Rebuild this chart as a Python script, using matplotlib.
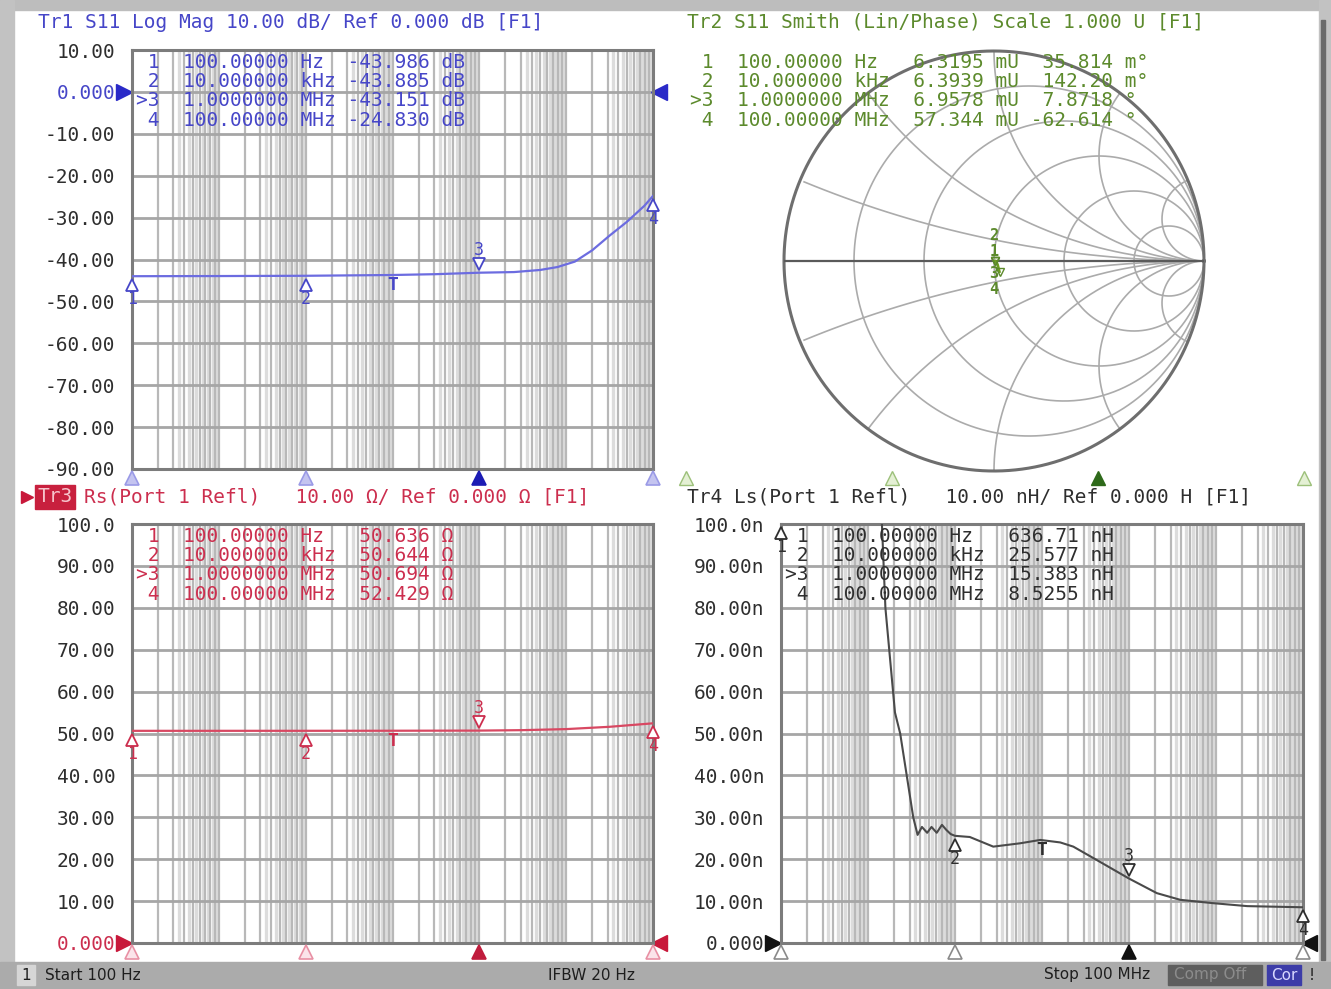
import numpy as np
import matplotlib.pyplot as plt
from matplotlib.patches import Rectangle
from matplotlib import transforms

W, H = 1331, 989
MONO = 'DejaVu Sans Mono'
FS = 14

# marker stimulus values (shared by all four traces)
mk_freq = [1e2, 1e4, 1e6, 1e8]
mk_name = ['1', '2', '>3', '4']
t_freq = 1e5  # extra "T" marker seen on the rectangular traces

# Tr1  S11 Log Mag (dB)
tr1_lf = [2.0, 3.0, 4.0, 5.0, 5.5, 6.0, 6.4, 6.7, 6.9, 7.1, 7.3, 7.5, 7.7, 7.9, 8.0]
tr1_val = [-43.986, -43.95, -43.885, -43.7, -43.5, -43.151, -43.0, -42.5, -41.8,
           -40.5, -37.8, -34.3, -31.0, -27.2, -24.830]
tr1_mk = [-43.986, -43.885, -43.151, -24.830]
tr1_ticks = [10, 0, -10, -20, -30, -40, -50, -60, -70, -80, -90]
tr1_labels = ['10.00', '0.000', '-10.00', '-20.00', '-30.00', '-40.00', '-50.00',
              '-60.00', '-70.00', '-80.00', '-90.00']

# Tr2  S11 Smith (Lin/Phase)
tr2_lf = [2.0, 4.0, 6.0, 7.0, 7.5, 8.0]
tr2_mag = [6.3195, 6.3939, 6.9578, 12.0, 25.0, 57.344]      # mU
tr2_ph = [0.035814, 0.14220, 7.8718, -20.0, -45.0, -62.614]  # deg
tr2_mk_mag = [6.3195, 6.3939, 6.9578, 57.344]
tr2_mk_ph = [0.035814, 0.14220, 7.8718, -62.614]

# Tr3  Rs (ohm)
tr3_lf = [2.0, 4.0, 5.0, 6.0, 6.5, 7.0, 7.5, 8.0]
tr3_val = [50.636, 50.644, 50.66, 50.694, 50.8, 51.05, 51.6, 52.429]
tr3_mk = [50.636, 50.644, 50.694, 52.429]
tr3_ticks = [100, 90, 80, 70, 60, 50, 40, 30, 20, 10, 0]
tr3_labels = ['100.0', '90.00', '80.00', '70.00', '60.00', '50.00', '40.00',
              '30.00', '20.00', '10.00', '0.000']

# Tr4  Ls (nH)
tr4_lf = [2.0, 3.0, 3.16, 3.2, 3.31, 3.37, 3.52, 3.57, 3.62, 3.68, 3.73, 3.79, 3.85,
          3.9, 3.95, 4.0, 4.17, 4.44, 4.75, 4.98, 5.21, 5.36, 5.63, 6.0, 6.32, 6.59,
          6.97, 7.36, 8.0]
tr4_val = [636.71, 140, 100, 80, 55, 50, 30, 25.8, 27.7, 26.3, 27.7, 26.3, 28.2,
           27.0, 26.0, 25.577, 25.3, 23.0, 23.8, 24.6, 24.0, 23.0, 19.8, 15.383, 11.9,
           10.3, 9.5, 8.8, 8.5255]
tr4_mk = [636.71, 25.577, 15.383, 8.5255]
tr4_ticks = [100, 90, 80, 70, 60, 50, 40, 30, 20, 10, 0]
tr4_labels = ['100.0n', '90.00n', '80.00n', '70.00n', '60.00n', '50.00n', '40.00n',
              '30.00n', '20.00n', '10.00n', '0.000']

BLUE, BLUE_T, BLUE_L = '#4646c8', '#6c6ce0', '#c4c4f0'
GREEN, GREEN_T = '#5c8a2c', '#6e9e22'
RED, RED_T, RED_L = '#cc2e4e', '#d84862', '#f0b8c4'
DARK, DARK_L = '#2e2e2e', '#c8c8c8'


def fmt_freq(f):
    for div, unit in ((1e6, 'MHz'), (1e3, 'kHz'), (1, 'Hz')):
        if f >= div:
            v = f / div
            break
    nd = len(str(int(v)))
    return f"{v:.{8 - nd}f}", unit


def sig5(v):
    nd = len(str(int(abs(v))))
    return f"{v:.{5 - nd}f}"


fig = plt.figure(figsize=(W / 100, H / 100), dpi=100)
fig.patch.set_facecolor('white')

bg = fig.add_axes([0, 0, 1, 1], zorder=-5)
bg.set_xlim(0, W)
bg.set_ylim(H, 0)
bg.axis('off')

# window frame and status bar
bg.add_patch(Rectangle((0, 0), W, 10, color='#bdbdbd'))
bg.add_patch(Rectangle((0, 0), 14, H, color='#c2c2c2'))
bg.add_patch(Rectangle((1319, 0), W - 1319, H, color='#c2c2c2'))
bg.add_patch(Rectangle((1321, 20), 4, 940, color='#6a6a6a'))
bg.add_patch(Rectangle((0, 962), W, H - 962, color='#ababab'))
bg.add_patch(Rectangle((17, 965), 18, 20, color='#d6d6d6'))
bg.add_patch(Rectangle((1168, 965), 94, 20, color='#5e5e5e'))
bg.add_patch(Rectangle((1267, 965), 34, 20, color='#3c3ca8'))
sb = dict(fontsize=11, va='center', color='#1e1e1e', family='DejaVu Sans')
bg.text(21, 975, '1', **sb)
bg.text(45, 975, 'Start 100 Hz', **sb)
bg.text(548, 975, 'IFBW 20 Hz', **sb)
bg.text(1044, 975, 'Stop 100 MHz', **sb)
bg.text(1174, 975, 'Comp Off', fontsize=11, va='center', color='#8c8c8c')
bg.text(1271, 975, 'Cor', fontsize=11, va='center', color='#d8d8ff')
bg.text(1309, 975, '!', **sb)


def px_axes(x0, y0, x1, y1):
    return fig.add_axes([x0 / W, 1 - y1 / H, (x1 - x0) / W, (y1 - y0) / H])


def rect_panel(x0, y0, x1, y1, ticks, labels, ylim):
    ax = px_axes(x0, y0, x1, y1)
    ax.set_xscale('log')
    ax.set_xlim(1e2, 1e8)
    ax.set_ylim(*ylim)
    ax.set_facecolor('none')
    ax.set_xticks([])
    ax.minorticks_off()
    ax.set_yticks(ticks)
    ax.set_yticklabels(labels, family=MONO, fontsize=FS)
    ax.tick_params(axis='y', length=0, pad=12)
    for d in range(2, 8):
        for k in np.arange(1.0, 10.0, 0.5):
            if d == 2 and k == 1.0:
                continue
            if k == int(k):
                ax.axvline(k * 10 ** d, color='#b8b8b8', lw=1.6, zorder=0.4)
            elif k > 3:
                ax.axvline(k * 10 ** d, color='#dcdcdc', lw=2.4, zorder=0.3)
    for t in ticks:
        ax.axhline(t, color='#a6a6a6', lw=2.0, zorder=0.5)
    for s in ax.spines.values():
        s.set_color('#7c7c7c')
        s.set_linewidth(2.2)
    return ax


def draw_markers(ax, vals, color, light, line_col, active_fill):
    for f, v, name in zip(mk_freq, vals, mk_name):
        num = name.strip('>')
        lo, hi = ax.get_ylim()
        v_c = min(v, hi)
        up = name.startswith('>')
        sgn = 1 if up else -1
        tri = transforms.offset_copy(ax.transData, fig=fig, x=0, y=sgn * 9, units='dots')
        ax.plot(f, v_c, marker='v' if up else '^', ms=8, mfc='white', mec=color,
                mew=1.3, transform=tri, clip_on=False, zorder=5)
        ax.annotate(num, (f, v_c), xytext=(0, sgn * 23), textcoords='offset pixels',
                    ha='center', va='center', fontsize=12, family=MONO, color=color,
                    zorder=6, annotation_clip=False)
        # stimulus markers below the grid
        ax.plot(f, -0.022, marker='^', ms=10, transform=ax.get_xaxis_transform(),
                clip_on=False, mfc=active_fill if up else light,
                mec=active_fill if up else line_col, mew=1.2, zorder=5)


def draw_table(ax, x0, y0, rows, color):
    for i, r in enumerate(rows):
        ax.text(x0, y0 + i * 19.4, r, transform=bg.transData, family=MONO, fontsize=FS,
                color=color, va='center', ha='left', zorder=7)


def ref_arrows(ax, level, color):
    tr = transforms.blended_transform_factory(ax.transAxes, ax.transData)
    ax.plot(-0.015, level, marker='>', ms=11, color=color, transform=tr, clip_on=False)
    ax.plot(1.012, level, marker='<', ms=11, color=color, transform=tr, clip_on=False)


def t_marker(ax, lf, val, color):
    v = np.interp(np.log10(t_freq), lf, val)
    ax.annotate('T', (t_freq, v), xytext=(0, -1), textcoords='offset pixels',
                ha='center', va='top', fontsize=13, family=MONO, color=color,
                fontweight='bold')


# ---------------- Tr1 ----------------
ax1 = rect_panel(132, 50, 653, 469, tr1_ticks, tr1_labels, (-90, 10))
for lab, t in zip(ax1.get_yticklabels(), tr1_ticks):
    lab.set_color(BLUE if t == 0 else DARK)
ax1.plot(10 ** np.array(tr1_lf), tr1_val, color=BLUE_T, lw=1.6, zorder=3)
draw_markers(ax1, tr1_mk, BLUE, BLUE_L, '#9a9ae6', '#1c1cb4')
t_marker(ax1, tr1_lf, tr1_val, BLUE)
ref_arrows(ax1, 0, '#2a2ac8')
rows = []
for f, v, n in zip(mk_freq, tr1_mk, mk_name):
    fs, u = fmt_freq(f)
    rows.append(f"{n:>2}  {fs} {u:<4}{sig5(v):>7} dB")
draw_table(ax1, 136, 62, rows, BLUE)
bg.text(38, 22, 'Tr1 S11 Log Mag 10.00 dB/ Ref 0.000 dB [F1]', family=MONO,
        fontsize=FS, color=BLUE, va='center')

# ---------------- Tr2 (Smith) ----------------
ax2 = px_axes(784, 51, 1204, 471)
ax2.set_xlim(-1, 1)
ax2.set_ylim(-1, 1)
ax2.set_aspect('equal')
ax2.axis('off')
th = np.linspace(0, 2 * np.pi, 600)
for r in [0.2, 0.5, 1, 2, 5]:
    c, rad = r / (1 + r), 1 / (1 + r)
    ax2.plot(c + rad * np.cos(th), rad * np.sin(th), color='#ababab', lw=1.2)
for x in [0.2, 0.5, 1, 2, 5]:
    for s in (1, -1):
        px = 1 + np.cos(th) / x
        py = s / x + np.sin(th) / x
        m = px ** 2 + py ** 2 > 1.0001
        px[m] = np.nan
        py[m] = np.nan
        ax2.plot(px, py, color='#ababab', lw=1.2)
ax2.plot(np.cos(th), np.sin(th), color='#6e6e6e', lw=2.2, clip_on=False)
ax2.plot([-1, 1], [0, 0], color='#5a5a5a', lw=1.6)
g = np.array(tr2_mag) / 1000 * np.exp(1j * np.deg2rad(tr2_ph))
ax2.plot(g.real, g.imag, color=GREEN_T, lw=1.8, zorder=4)
gm = np.array(tr2_mk_mag) / 1000 * np.exp(1j * np.deg2rad(tr2_mk_ph))
offs = [10, 26, -12, -28]
for z, n, dy in zip(gm, mk_name, offs):
    ax2.annotate(n.strip('>'), (0, 0), xytext=(0, dy), textcoords='offset pixels',
                 ha='center', va='center', fontsize=11, family=MONO, color=GREEN,
                 fontweight='bold', zorder=6)
    ax2.plot(z.real, z.imag, 'v', ms=6, mfc='none', mec=GREEN, zorder=5)
axs = px_axes(686, 470, 1304, 486)
axs.set_xscale('log')
axs.set_xlim(1e2, 1e8)
axs.set_ylim(-1, 1)
axs.axis('off')
for f, n in zip(mk_freq, mk_name):
    act = n.startswith('>')
    axs.plot(f, 0, '^', ms=10, mfc='#2e6a1a' if act else '#e4f0d4',
             mec='#2e6a1a' if act else '#9cc07a', clip_on=False)
rows = []
for f, a, p, n in zip(mk_freq, tr2_mk_mag, tr2_mk_ph, mk_name):
    fs, u = fmt_freq(f)
    pu = "m°" if abs(p) < 1 else "°"
    pv = p * 1000 if abs(p) < 1 else p
    rows.append(f"{n:>2}  {fs} {u:<4}{sig5(a):>7} mU {sig5(pv):>7} {pu}")
draw_table(ax2, 690, 62, rows, GREEN)
bg.text(687, 22, 'Tr2 S11 Smith (Lin/Phase) Scale 1.000 U [F1]', family=MONO,
        fontsize=FS, color=GREEN, va='center')

# ---------------- Tr3 ----------------
ax3 = rect_panel(132, 524, 653, 943, tr3_ticks, tr3_labels, (0, 100))
for lab, t in zip(ax3.get_yticklabels(), tr3_ticks):
    lab.set_color(RED if t == 0 else DARK)
ax3.plot(10 ** np.array(tr3_lf), tr3_val, color=RED_T, lw=1.6, zorder=3)
draw_markers(ax3, tr3_mk, RED, '#fbe4ea', '#e890a4', '#c01c3c')
t_marker(ax3, tr3_lf, tr3_val, RED)
ref_arrows(ax3, 0, '#c8183a')
rows = []
for f, v, n in zip(mk_freq, tr3_mk, mk_name):
    fs, u = fmt_freq(f)
    rows.append(f"{n:>2}  {fs} {u:<4}{sig5(v):>7} Ω")
draw_table(ax3, 136, 536, rows, RED)
bg.plot(27, 497, '>', ms=9, color='#c8183a')
bg.text(37, 497, 'Tr3', family=MONO, fontsize=FS, color='#f6c4cc', va='center',
        bbox=dict(boxstyle='square,pad=0.12', fc='#c8203e', ec='#c8203e'))
bg.text(84, 497, 'Rs(Port 1 Refl)   10.00 Ω/ Ref 0.000 Ω [F1]', family=MONO,
        fontsize=FS, color=RED, va='center')

# ---------------- Tr4 ----------------
ax4 = rect_panel(781, 524, 1303, 943, tr4_ticks, tr4_labels, (0, 100))
for lab in ax4.get_yticklabels():
    lab.set_color(DARK)
ax4.plot(10 ** np.array(tr4_lf), tr4_val, color='#4a4a4a', lw=1.5, zorder=3)
draw_markers(ax4, tr4_mk, DARK, '#ffffff', '#8a8a8a', '#111111')
t_marker(ax4, tr4_lf, tr4_val, DARK)
ref_arrows(ax4, 0, '#111111')
rows = []
for f, v, n in zip(mk_freq, tr4_mk, mk_name):
    fs, u = fmt_freq(f)
    rows.append(f"{n:>2}  {fs} {u:<4}{sig5(v):>7} nH")
draw_table(ax4, 785, 536, rows, DARK)
bg.text(687, 497, 'Tr4 Ls(Port 1 Refl)   10.00 nH/ Ref 0.000 H [F1]', family=MONO,
        fontsize=FS, color=DARK, va='center')

fig.savefig('out.png', dpi=100, facecolor='white')
